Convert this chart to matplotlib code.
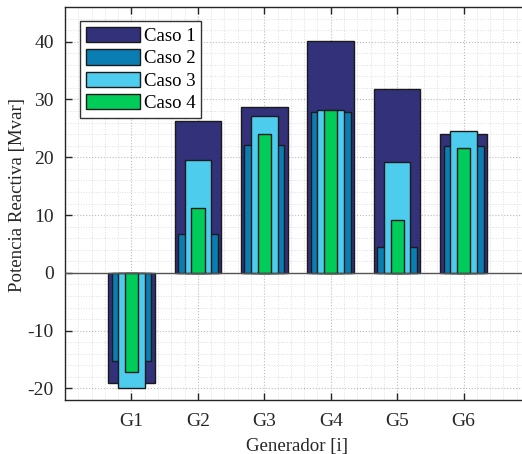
import matplotlib
matplotlib.use("Agg")
import matplotlib.pyplot as plt
import numpy as np
from matplotlib.ticker import MultipleLocator

plt.rcParams['font.family'] = ['Liberation Serif', 'DejaVu Serif']
plt.rcParams['axes.unicode_minus'] = False

generadores = ["G1", "G2", "G3", "G4", "G5", "G6"]
caso1 = [-19.0, 26.2, 28.7, 40.1, 31.8, 24.0]
caso2 = [-15.3, 6.8, 22.1, 27.8, 4.4, 22.0]
caso3 = [-20.0, 19.5, 27.2, 28.2, 19.1, 24.6]
caso4 = [-17.1, 11.3, 24.0, 28.2, 9.2, 21.6]
labels = ["Caso 1", "Caso 2", "Caso 3", "Caso 4"]

series = [caso1, caso2, caso3, caso4]
widths = [0.7, 0.6, 0.4, 0.2]
colors = ["#33317A", "#0A7EB3", "#4DCCEE", "#00CC5A"]

fig = plt.figure(figsize=(5.22, 4.54), dpi=100)
ax = fig.add_axes([65/522, 54/454, (530-65)/522, (400-7)/454])

x = np.arange(1, len(generadores) + 1)
for vals, w, c, lab in zip(series, widths, colors, labels):
    ax.bar(x, vals, width=w, color=c, edgecolor="#1a1a1a", linewidth=1.0, label=lab, zorder=3)

ax.axhline(0, color="#555555", linewidth=1.0, zorder=4)
ax.set_xlim(0, 7)
ax.set_ylim(-22, 46)
ax.set_xticks(x)
ax.set_xticklabels(generadores)
ax.set_yticks([-20, -10, 0, 10, 20, 30, 40])
ax.xaxis.set_minor_locator(MultipleLocator(0.2))
ax.yaxis.set_minor_locator(MultipleLocator(2))
ax.grid(True, which="major", linestyle=":", color="#bbbbbb", linewidth=0.8, zorder=0)
ax.grid(True, which="minor", linestyle=":", color="#dddddd", linewidth=0.7, zorder=0)
ax.tick_params(which="major", direction="in", length=5, width=1.0, top=True, right=False,
               labelsize=14, colors="#262626")
ax.tick_params(axis="x", pad=9)
ax.tick_params(axis="y", pad=8)
ax.tick_params(which="minor", length=0)
ax.spines["right"].set_visible(False)
for s in ax.spines.values():
    s.set_color("#262626")
    s.set_linewidth(1.0)

ax.set_xlabel("Generador [i]", fontsize=13.6, color="#262626", labelpad=6)
ax.set_ylabel("Potencia Reactiva [Mvar]", fontsize=13.6, color="#262626")
ax.yaxis.set_label_coords(-0.083, 0.522)

leg = ax.legend(loc="upper left", bbox_to_anchor=(0.032, 0.964), fontsize=13.5,
                handlelength=2.9, handleheight=0.9, handletextpad=0.2,
                labelspacing=0.22, borderpad=0.3, borderaxespad=0, fancybox=False, framealpha=1,
                edgecolor="#333333")
leg.get_frame().set_linewidth(1.0)

fig.savefig("out.png", dpi=100)
